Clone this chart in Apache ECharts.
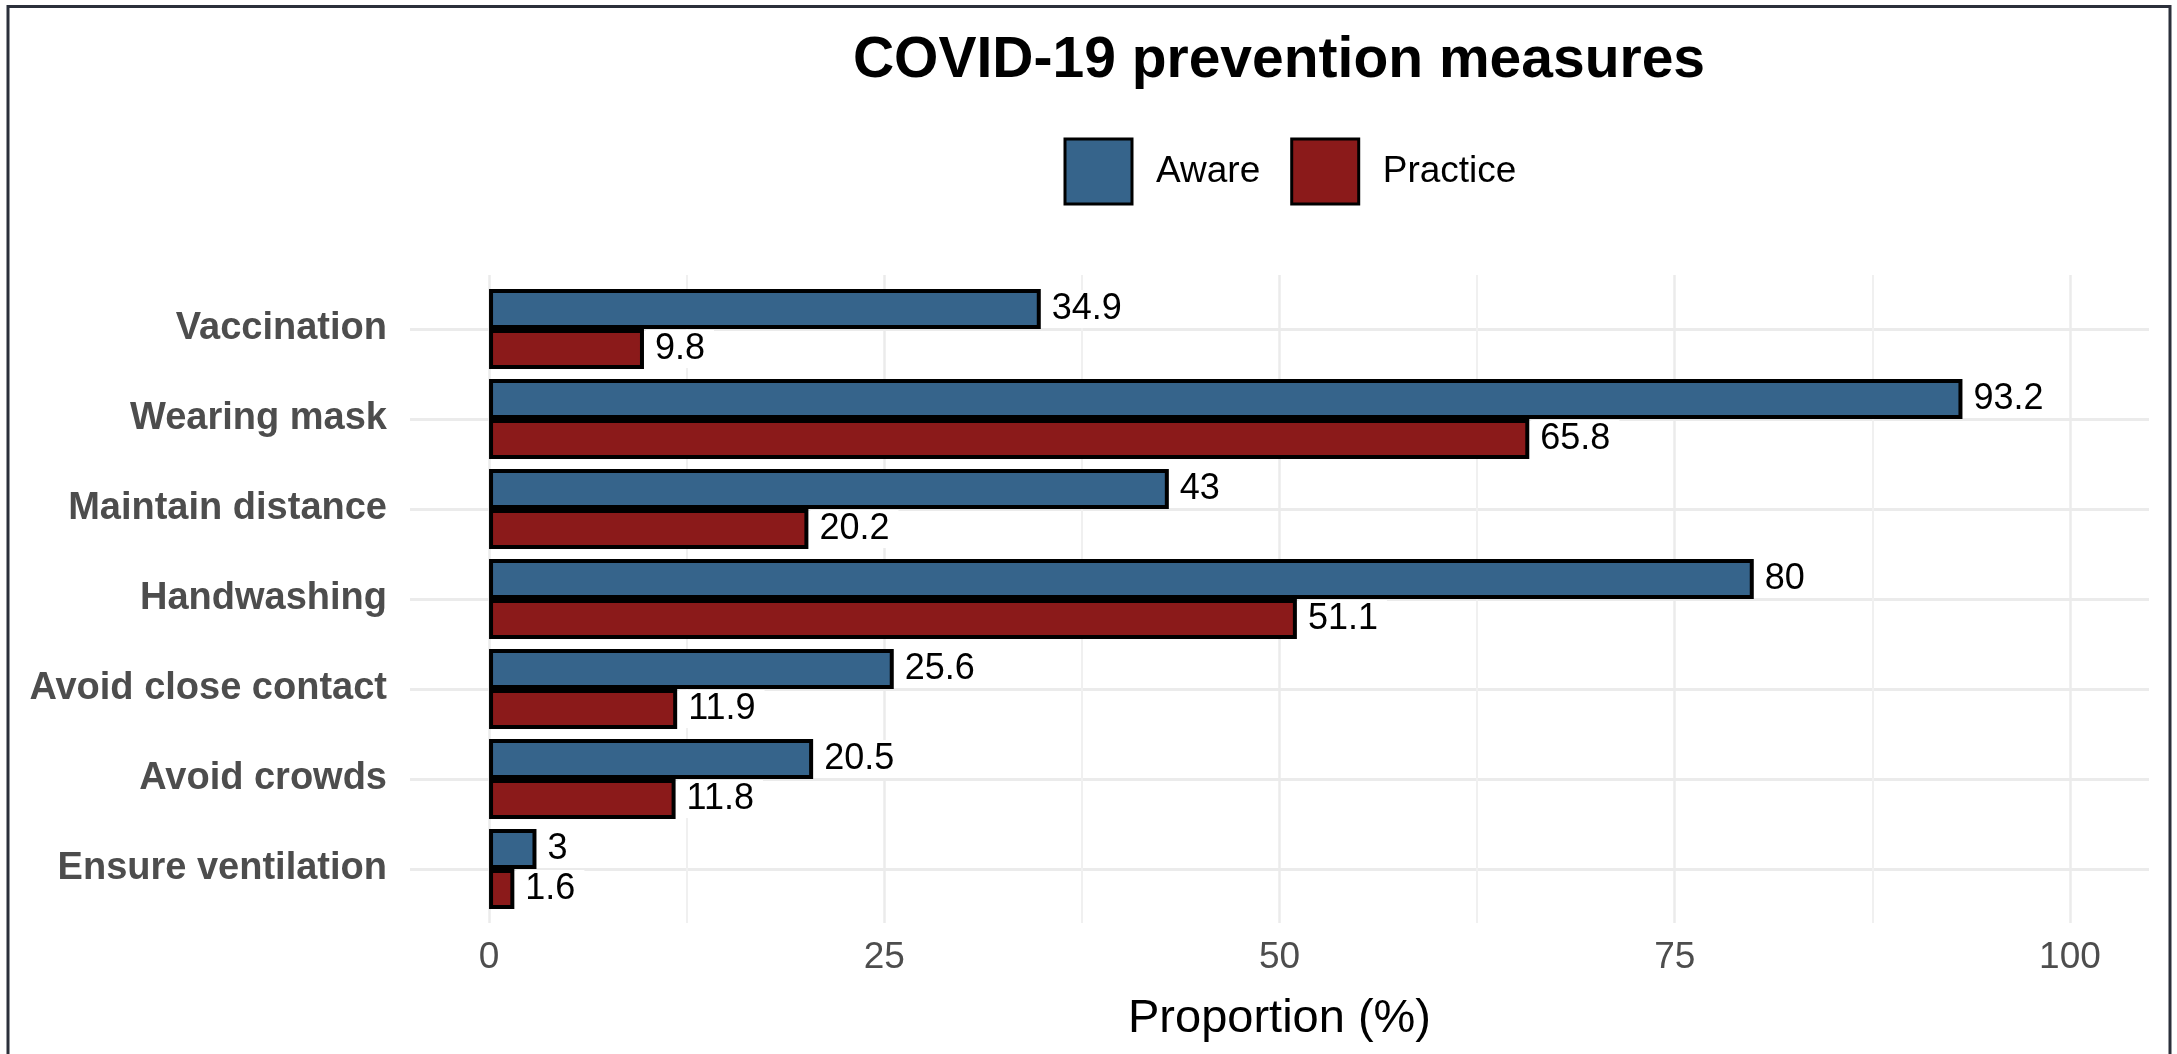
<!DOCTYPE html>
<html><head><meta charset="utf-8">
<script src="https://cdn.jsdelivr.net/npm/echarts@6/dist/echarts.min.js"></script>
<style>html,body{margin:0;padding:0;background:#fff;overflow:hidden}#chart{width:2177px;height:1054px}</style>
</head><body><div id="chart"></div>
<script>
const categories = ['Vaccination', 'Wearing mask', 'Maintain distance', 'Handwashing', 'Avoid close contact', 'Avoid crowds', 'Ensure ventilation'];
const awareValues = [34.9, 93.2, 43, 80, 25.6, 20.5, 3];
const practiceValues = [9.8, 65.8, 20.2, 51.1, 11.9, 11.8, 1.6];
const seriesNames = ['Aware', 'Practice'];
const xTickValues = [0, 25, 50, 75, 100];
const xMinorValues = [12.5, 37.5, 62.5, 87.5];
const titleText = 'COVID-19 prevention measures';
const xAxisTitle = 'Proportion (%)';

const FONT = '"Liberation Sans", Arial, Helvetica, sans-serif';
const catPositions = categories.map((_, i) => i + 1);
const chart = echarts.init(document.getElementById('chart'), null, {renderer: 'canvas'});

const labelStyle = {
  show: true, position: 'right', distance: 2, color: '#000', fontSize: 36, fontFamily: FONT,
  backgroundColor: '#fff', padding: [1, 9, 1, 9], lineHeight: 36
};

chart.setOption({
  animation: false,
  backgroundColor: '#fff',
  title: {
    text: titleText, left: 1279, top: 33, textAlign: 'center', padding: 0,
    textStyle: {fontSize: 57, fontWeight: 'bold', color: '#000', fontFamily: FONT, lineHeight: 57}
  },
  legend: {
    data: seriesNames, left: 1063.5, top: 137.5, padding: 0, itemGap: 30,
    itemWidth: 67, itemHeight: 65, icon: 'rect',
    itemStyle: {borderColor: '#000', borderWidth: 3},
    textStyle: {fontSize: 37, color: '#000', fontFamily: FONT, padding: [0, 0, 0, 19]}
  },
  graphic: [{
    type: 'polyline', silent: true,
    shape: {points: [[8, 1070], [8, 6.5], [2170, 6.5], [2170, 1070]]},
    style: {stroke: '#2B303B', lineWidth: 3, fill: null}
  }],
  grid: [
    {left: 410, right: 28, top: 275, bottom: 131, containLabel: false},
    {left: 410, right: 28, top: 284, bottom: 140, containLabel: false}
  ],
  xAxis: [
    {
      type: 'value', gridIndex: 0, min: -5, max: 105,
      axisLine: {show: false},
      axisTick: {show: false, customValues: xTickValues},
      axisLabel: {customValues: xTickValues, color: '#4D4D4D', fontSize: 37, fontFamily: FONT, margin: 16},
      splitLine: {show: true, lineStyle: {color: '#EBEBEB', width: 2.5}},
      name: xAxisTitle, nameLocation: 'middle', nameGap: 73,
      nameTextStyle: {fontSize: 47, color: '#000', fontFamily: FONT}
    },
    {
      type: 'value', gridIndex: 0, min: -5, max: 105, position: 'top',
      axisLine: {show: false},
      axisTick: {show: false, customValues: xMinorValues},
      axisLabel: {show: false},
      splitLine: {show: true, lineStyle: {color: '#F0F0F0', width: 2}}
    },
    {
      type: 'value', gridIndex: 1, min: -5, max: 105,
      axisLine: {show: false}, axisTick: {show: false}, axisLabel: {show: false}, splitLine: {show: false}
    }
  ],
  yAxis: [
    {
      type: 'value', gridIndex: 0, min: 0.4, max: 7.6,
      axisLine: {show: false},
      axisTick: {show: false, customValues: catPositions},
      axisLabel: {show: false},
      splitLine: {show: true, lineStyle: {color: '#EBEBEB', width: 3}}
    },
    {
      type: 'category', gridIndex: 1, data: categories, inverse: true,
      axisLine: {show: false}, axisTick: {show: false}, splitLine: {show: false},
      axisLabel: {color: '#4D4D4D', fontSize: 38, fontWeight: 'bold', fontFamily: FONT, margin: 23}
    }
  ],
  series: [
    {
      name: seriesNames[0], type: 'bar', xAxisIndex: 2, yAxisIndex: 1, data: awareValues,
      barCategoryGap: '11%', barGap: '0%',
      itemStyle: {color: '#36648B', borderColor: '#000', borderWidth: 4},
      label: labelStyle
    },
    {
      name: seriesNames[1], type: 'bar', xAxisIndex: 2, yAxisIndex: 1, data: practiceValues,
      barCategoryGap: '11%', barGap: '0%',
      itemStyle: {color: '#8B1A1A', borderColor: '#000', borderWidth: 4},
      label: labelStyle
    }
  ]
});
</script></body></html>
